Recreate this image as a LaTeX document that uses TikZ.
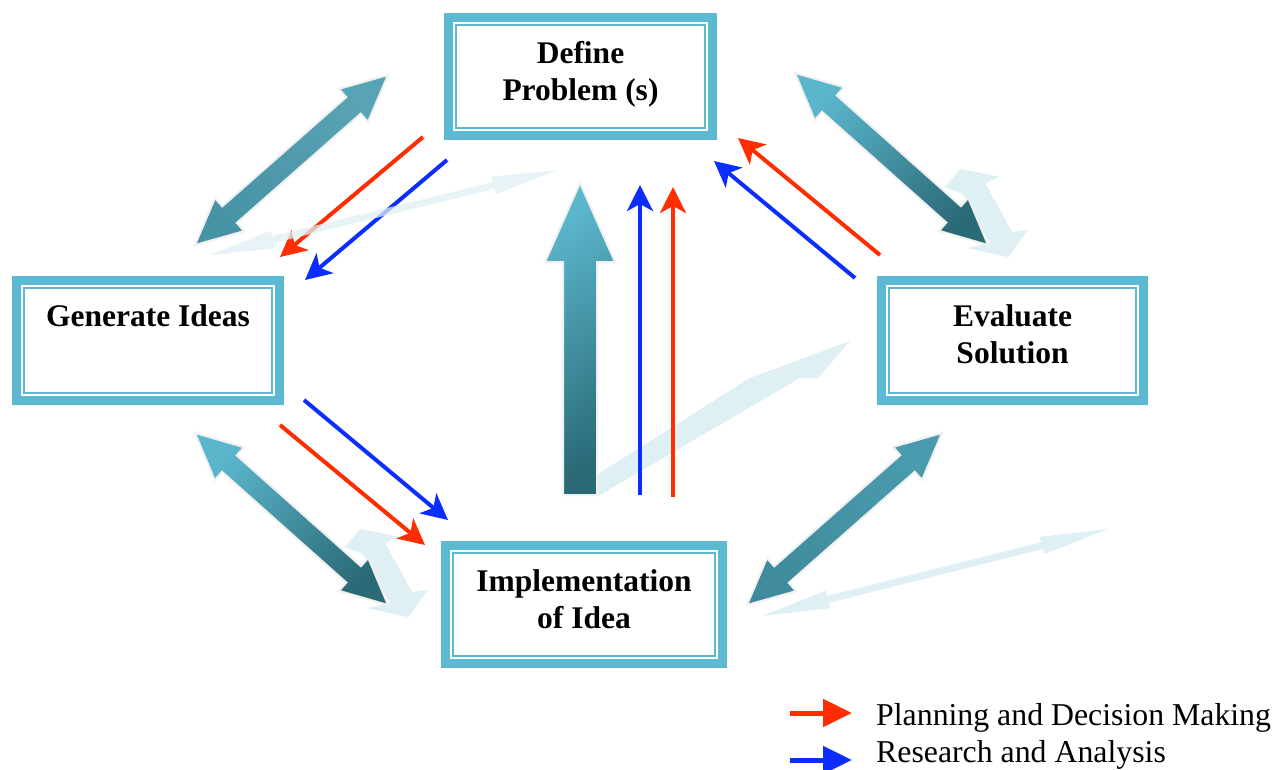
\documentclass[tikz,border=0pt]{standalone}
\usepackage{fontspec}
\setmainfont{Liberation Serif}
\usetikzlibrary{arrows.meta,calc}
\definecolor{boxc}{HTML}{5BBAD1}
\definecolor{pdmred}{HTML}{FF2D00}
\definecolor{rnablue}{HTML}{0B2DFF}
\definecolor{reflc}{HTML}{DFF0F5}
\definecolor{tlight}{HTML}{5BB6CC}
\definecolor{tdark}{HTML}{2A6A77}
\definecolor{tmid}{HTML}{4A9BAE}
\definecolor{tmidd}{HTML}{3F8B9D}
\definecolor{edgec}{HTML}{F0F0F0}
% #1 options, #2 start, #3 end, #4 head length, #5 head half width, #6 shaft half width
\newcommand{\DblArrow}[6]{%
  \coordinate (h1) at ($(#2)!#4!(#3)$);
  \coordinate (h2) at ($(#3)!#4!(#2)$);
  \path[#1] (#2) -- ($(h1)!#5!90:(#3)$) -- ($(h1)!#6!90:(#3)$) -- ($(h2)!#6!-90:(#2)$) -- ($(h2)!#5!-90:(#2)$) -- (#3) -- ($(h2)!#5!90:(#2)$) -- ($(h2)!#6!90:(#2)$) -- ($(h1)!#6!-90:(#3)$) -- ($(h1)!#5!-90:(#3)$) -- cycle;}
\begin{document}
\begin{tikzpicture}[x=1pt,y=-1pt,
  boxnode/.style={draw=boxc, line width=9pt, outer sep=0pt, inner sep=0pt, align=center,
    font=\fontsize{31.5}{37}\selectfont\bfseries, fill=white},
  innerline/.style={draw=boxc, line width=2pt},
  bigarrow/.style={draw=edgec, line width=2pt, line join=miter},
  pdm/.style={draw=pdmred, line width=4pt, -{Stealth[length=26pt,width=26pt,inset=7pt]}},
  rna/.style={draw=rnablue, line width=4pt, -{Stealth[length=26pt,width=26pt,inset=7pt]}},
  legred/.style={draw=pdmred, line width=5pt, -{Triangle[length=29pt,width=27pt]}},
  legblue/.style={draw=rnablue, line width=5pt, -{Triangle[length=29pt,width=27pt]}},
  legtext/.style={anchor=base west, inner sep=0pt, font=\fontsize{31.8}{37}\selectfont},
  refl/.style={fill=reflc}]
\fill[white] (0,0) rectangle (1287,769);
\useasboundingbox (0,0) rectangle (1287,769);

% reflections (behind)
\fill[refl] (960,169) -- (1000,177) -- (985,183) -- (1012,232) -- (1028,230) -- (1008,257) -- (967,248) -- (990,243) -- (963,194) -- (945,187) -- cycle;
\begin{scope}[shift={(-600,360)}]
\fill[refl] (960,169) -- (1000,177) -- (985,183) -- (1012,232) -- (1028,230) -- (1008,257) -- (967,248) -- (990,243) -- (963,194) -- (945,187) -- cycle;
\end{scope}
\fill[refl] (598,474) -- (750,378) -- (850,341) -- (818,378) -- (800,378) -- (598,496) -- cycle;
\coordinate (rd1) at (762,616); \coordinate (rd2) at (1108,529);
\DblArrow{refl}{rd1}{rd2}{68pt}{9pt}{3.5pt}

% big arrows
\coordinate (a1s) at (195,245); \coordinate (a1e) at (388,75);
\coordinate (a2s) at (795,73);  \coordinate (a2e) at (988,245);
\coordinate (a3s) at (195,433); \coordinate (a3e) at (388,605);
\coordinate (a4s) at (747,605); \coordinate (a4e) at (942,433);
\DblArrow{bigarrow, top color=tmid!92!white, bottom color=tmid!95!black, shading angle=-45}{a1s}{a1e}{46pt}{22pt}{11pt}
\DblArrow{bigarrow, top color=tlight, bottom color=tdark, shading angle=45}{a2s}{a2e}{46pt}{22pt}{11pt}
\DblArrow{bigarrow, top color=tlight, bottom color=tdark, shading angle=45}{a3s}{a3e}{46pt}{22pt}{11pt}
\DblArrow{bigarrow, top color=tmid, bottom color=tmidd, shading angle=-45}{a4s}{a4e}{46pt}{22pt}{11pt}
\path[bigarrow, top color=tlight, bottom color=tdark, shading angle=35]
  (580,183) -- (615,262) -- (597,262) -- (597,495) -- (563,495) -- (563,262) -- (545,262) -- cycle;

% boxes
\node[boxnode, minimum width=264pt, minimum height=118pt, text depth=12pt] (def) at (580.5,76.5) {Define\\Problem (s)};
\node[boxnode, minimum width=263pt, minimum height=120pt, text depth=12pt] (gen) at (148,340.5) {Generate Ideas\\\mbox{}};
\node[boxnode, minimum width=262pt, minimum height=120pt, text depth=12pt] (eva) at (1012.5,340.5) {Evaluate\\Solution};
\node[boxnode, minimum width=277pt, minimum height=118pt, text depth=10pt] (imp) at (584,604.5) {Implementation\\of Idea};
\foreach \n in {def,gen,eva,imp}
  \draw[innerline] ([xshift=7.5pt,yshift=-7.5pt]\n.north west) rectangle ([xshift=-7.5pt,yshift=7.5pt]\n.south east);

% red / blue connectors
\coordinate (r1s) at (423,137); \coordinate (r1e) at (280,257);
\coordinate (b1s) at (447,160); \coordinate (b1e) at (305,280);
\coordinate (r2s) at (880,255); \coordinate (r2e) at (738,138);
\coordinate (b2s) at (855,278); \coordinate (b2e) at (714,161);
\coordinate (b3s) at (640,495); \coordinate (b3e) at (640,185);
\coordinate (r3s) at (673,497); \coordinate (r3e) at (673,187);
\coordinate (b4s) at (304,400); \coordinate (b4e) at (448,520);
\coordinate (r4s) at (280,425); \coordinate (r4e) at (425,545);
\draw[pdm] (r1s) -- (r1e);
\draw[rna] (b1s) -- (b1e);
\draw[pdm] (r2s) -- (r2e);
\draw[rna] (b2s) -- (b2e);
\draw[rna] (b3s) -- (b3e);
\draw[pdm] (r3s) -- (r3e);
\draw[rna] (b4s) -- (b4e);
\draw[pdm] (r4s) -- (r4e);

% reflection over the top-left connectors
\coordinate (ra1) at (210,255); \coordinate (ra2) at (557,170);
\DblArrow{refl, opacity=0.75}{ra1}{ra2}{65pt}{9pt}{3.5pt}

% legend
\coordinate (lr1) at (790,713); \coordinate (lr2) at (852,713);
\coordinate (lb1) at (790,760); \coordinate (lb2) at (852,760);
\draw[legred] (lr1) -- (lr2);
\draw[legblue] (lb1) -- (lb2);
\node[legtext] (lt1) at (876,725) {Planning and Decision Making};
\node[legtext] (lt2) at (876,762) {Research and Analysis};
\end{tikzpicture}
\end{document}
